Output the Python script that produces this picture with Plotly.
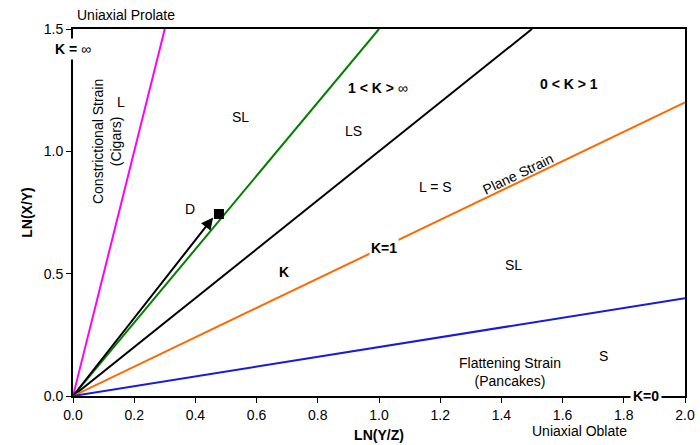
import plotly.graph_objects as go

# Flinn diagram: reference lines through the origin, given by their slope LN(X/Y) / LN(Y/Z)
line_names = ["K = inf", "1<K", "K=1 (upper)", "Plane strain", "Flattening"]
line_slopes = [5.0, 1.5, 1.0, 0.6, 0.2]
line_colors = ["#FF00FF", "#008000", "#000000", "#FF6A00", "#1A1ADB"]

x_max = 2.0
y_max = 1.5

# Sample point D and its deformation path
point_d = (0.477, 0.744)
arrow_tip = (0.458, 0.730)

fig = go.Figure()

for name, k, col in zip(line_names, line_slopes, line_colors):
    x_end = min(x_max, y_max / k)
    fig.add_trace(go.Scatter(
        x=[0, x_end], y=[0, k * x_end], mode="lines", name=name,
        line=dict(color=col, width=2), hoverinfo="skip", showlegend=False,
    ))

fig.add_trace(go.Scatter(
    x=[point_d[0]], y=[point_d[1]], mode="markers", showlegend=False,
    marker=dict(symbol="square", size=10, color="black"),
))

font = dict(family="Liberation Sans, Arial, sans-serif", size=14, color="black")
bold = dict(family="Liberation Sans, Arial, sans-serif", size=14, color="black")

anns = [
    dict(x=arrow_tip[0], y=arrow_tip[1], ax=0, ay=0, axref="x", ayref="y",
         xref="x", yref="y", text="", showarrow=True, arrowhead=2,
         arrowsize=1.2, arrowwidth=2, arrowcolor="black"),
    dict(x=0.157, y=1.20, text="L"),
    dict(x=0.546, y=1.14, text="SL"),
    dict(x=0.997, y=1.26, text="<b>1 &lt; K &gt; </b>∞"),
    dict(x=0.918, y=1.083, text="LS"),
    dict(x=1.62, y=1.275, text="<b>0 &lt; K &gt; 1</b>"),
    dict(x=1.183, y=0.854, text="L = S"),
    dict(x=0.382, y=0.764, text="D"),
    dict(x=0.69, y=0.507, text="<b>K</b>"),
    dict(x=1.441, y=0.535, text="SL"),
    dict(x=1.428, y=0.098, text="Flattening Strain<br>(Pancakes)"),
    dict(x=1.735, y=0.163, text="S"),
    dict(x=1.016, y=0.605, text="<b>K=1</b>", bgcolor="white", borderpad=1),
    dict(x=1.873, y=0.0, text="<b>K=0</b>", bgcolor="white", borderpad=2),
    dict(x=0.0, y=1.42, text="<b>K = </b>∞", bgcolor="white", borderpad=2),
    dict(x=1.454, y=0.907, text="Plane Strain", textangle=-25.6),
    dict(x=0.111, y=1.042, text="Constrictional Strain<br>(Cigars)", textangle=-90),
    dict(x=0.005, y=1.5, text="Uniaxial Prolate", xanchor="left", yanchor="bottom", yshift=4),
    dict(x=1.655, y=0.0, text="Uniaxial Oblate", yanchor="top", yshift=-25),
]
for a in anns:
    base = dict(xref="x", yref="y", showarrow=False, font=font)
    base.update(a)
    fig.add_annotation(**base)

axis_common = dict(
    showline=True, linecolor="black", linewidth=2, mirror=True,
    ticks="outside", ticklen=5, tickwidth=1, tickcolor="black",
    showgrid=False, zeroline=False, tickfont=font, automargin=False,
)

fig.update_xaxes(range=[0, x_max], dtick=0.2, tickformat=".1f",
                 title=dict(text="<b>LN(Y/Z)</b>", font=bold, standoff=8),
                 **axis_common)
fig.update_yaxes(range=[0, y_max], dtick=0.5, tickformat=".1f",
                 title=dict(text="<b>LN(X/Y)</b>", font=bold, standoff=8),
                 **axis_common)

fig.update_layout(
    width=700, height=445,
    margin=dict(l=73, r=15, t=29, b=49),
    plot_bgcolor="white", paper_bgcolor="white",
    font=font,
)

fig.write_html("out.html")
